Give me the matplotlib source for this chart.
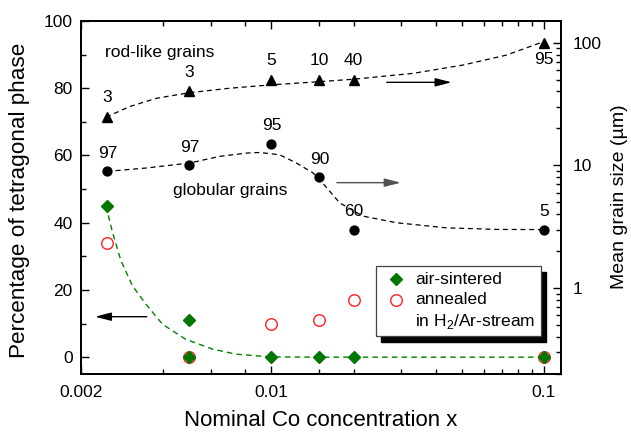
import matplotlib
matplotlib.use("Agg")
import matplotlib.pyplot as plt
from matplotlib.ticker import FixedLocator, NullFormatter, FuncFormatter
from matplotlib.patches import Rectangle

plt.rcParams['font.family'] = ['Liberation Sans', 'DejaVu Sans']
plt.rcParams['mathtext.fontset'] = 'custom'
plt.rcParams['mathtext.rm'] = 'Liberation Sans'

# ---- data ----
x_grain = [0.0025, 0.005, 0.01, 0.015, 0.02, 0.1]
size_rod = [25, 40, 50, 50, 50, 100]
rod_pct = ['3', '3', '5', '10', '40', '95']
size_glob = [9, 10, 15, 8, 3, 3]
glob_pct = ['97', '97', '95', '90', '60', '5']

x_air = [0.0025, 0.005, 0.005, 0.01, 0.015, 0.02, 0.1]
tet_air = [45, 11, 0, 0, 0, 0, 0]
x_ann = [0.0025, 0.005, 0.01, 0.015, 0.02, 0.1]
tet_ann = [34, 0, 10, 11, 17, 0]

green_fit_x = [0.00247, 0.00261, 0.0028, 0.00309, 0.00346, 0.00398, 0.00485,
               0.00608, 0.00741, 0.00984, 0.015, 0.02, 0.05, 0.1]
green_fit_y = [45, 37.1, 28.8, 21.2, 15.8, 9.8, 5.3, 2.4, 0.9, 0.1, 0, 0, 0, 0]

rod_fit_x = [0.00247, 0.00301, 0.00378, 0.0050, 0.00702, 0.00985, 0.01503,
             0.01993, 0.0331, 0.0505, 0.0729, 0.0993]
rod_fit_y = [24.7, 30.1, 35.2, 39.1, 42.5, 45.2, 48.1, 50.3, 56.2, 65.7, 79.2, 101.5]

glob_fit_x = [0.00249, 0.00347, 0.0050, 0.00645, 0.0081, 0.00905, 0.01072, 0.01235,
              0.01421, 0.01503, 0.0178, 0.02168, 0.02877, 0.0439, 0.067, 0.1]
glob_fit_y = [8.94, 9.52, 10.45, 11.84, 12.6, 12.74, 12.2, 10.45, 8.68, 7.66, 4.95,
              3.86, 3.41, 3.10, 3.01, 3.0]

x_major = [0.002, 0.01, 0.1]
x_minor = [0.004, 0.006, 0.008, 0.015, 0.02, 0.03, 0.04, 0.05, 0.06, 0.07, 0.08, 0.09]

# ---- figure ----
W, H = 631, 433
fig = plt.figure(figsize=(W / 100, H / 100), dpi=100)
ax = fig.add_axes([0.1284, 0.1363, 0.7607, 0.8152])
ax2 = ax.twinx()

ax.set_xscale('log')
ax.set_xlim(0.002, 0.1155)
ax.set_ylim(-5, 100)
ax2.set_yscale('log')
ax2.set_ylim(0.2, 150)

# left axis data
ax.plot(green_fit_x, green_fit_y, color='#008000', lw=1.0, dashes=(4, 3), zorder=2)
ax.plot(x_ann, tet_ann, linestyle='none', marker='o', ms=8.3, mfc='none',
        mec='#ff2020', mew=1.0, zorder=3)
ax.plot(x_air, tet_air, linestyle='none', marker='D', ms=5.8, mfc='#007800',
        mec='#007800', zorder=4)

# right axis data
ax2.plot(rod_fit_x, rod_fit_y, color='k', lw=0.9, dashes=(4, 3))
ax2.plot(glob_fit_x, glob_fit_y, color='k', lw=0.9, dashes=(4, 3))
ax2.plot(x_grain, size_rod, linestyle='none', marker='^', ms=7.6, color='k')
ax2.plot(x_grain, size_glob, linestyle='none', marker='o', ms=6.4, color='k')

for i, (xv, yv, lab) in enumerate(zip(x_grain, size_rod, rod_pct)):
    dy = -17 if i == len(x_grain) - 1 else 19
    ax2.annotate(lab, (xv, yv), xytext=(0, dy), textcoords='offset pixels',
                 ha='center', va='center', fontsize=12.5)
for xv, yv, lab in zip(x_grain, size_glob, glob_pct):
    ax2.annotate(lab, (xv, yv), xytext=(0, 18), textcoords='offset pixels',
                 ha='center', va='center', fontsize=12.5)

# texts
ax.text(0.05, 0.910, 'rod-like grains', transform=ax.transAxes, fontsize=12.5,
        va='center', ha='left')
ax.text(0.192, 0.521, 'globular grains', transform=ax.transAxes, fontsize=12.5,
        va='center', ha='left')

# arrows
ap = dict(arrowstyle='-|>,head_length=0.7,head_width=0.18', lw=1.0,
          mutation_scale=14, shrinkA=0, shrinkB=0)
ax.annotate('', xy=(0.772, 0.8263), xytext=(0.637, 0.8263), xycoords='axes fraction',
            arrowprops=dict(color='k', **ap))
ax.annotate('', xy=(0.666, 0.542), xytext=(0.533, 0.542), xycoords='axes fraction',
            arrowprops=dict(color='#505050', **ap))
ax.annotate('', xy=(0.029, 0.1623), xytext=(0.137, 0.1623), xycoords='axes fraction',
            arrowprops=dict(color='k', **ap))

# legend (drawn manually with solid shadow)
lx0, lx1, ly0, ly1 = 0.615, 0.958, 0.108, 0.305
ax.add_patch(Rectangle((lx0 + 0.0105, ly0 - 0.017), lx1 - lx0, ly1 - ly0,
                       transform=ax.transAxes, facecolor='k', edgecolor='k',
                       zorder=6, clip_on=False))
ax.add_patch(Rectangle((lx0, ly0), lx1 - lx0, ly1 - ly0, transform=ax.transAxes,
                       facecolor='white', edgecolor='#444444', lw=0.9, zorder=7,
                       clip_on=False))
ax.plot([0.656], [0.269], transform=ax.transAxes, marker='D', ms=5.8,
        color='#007800', zorder=8, clip_on=False)
ax.plot([0.656], [0.210], transform=ax.transAxes, marker='o', ms=8.3, mfc='none',
        mec='#ff2020', mew=1.0, zorder=8, clip_on=False)
ax.text(0.696, 0.269, 'air-sintered', transform=ax.transAxes, fontsize=12.5,
        va='center', ha='left', zorder=9)
ax.text(0.696, 0.210, 'annealed', transform=ax.transAxes, fontsize=12.5,
        va='center', ha='left', zorder=9)
ax.text(0.696, 0.148, r'in H$_2$/Ar-stream', transform=ax.transAxes, fontsize=12.5,
        va='center', ha='left', zorder=9)

# ticks
ax.xaxis.set_major_locator(FixedLocator(x_major))
ax.xaxis.set_minor_locator(FixedLocator(x_minor))
ax.xaxis.set_major_formatter(FuncFormatter(lambda v, p: '%g' % v))
ax.xaxis.set_minor_formatter(NullFormatter())
ax.yaxis.set_major_locator(FixedLocator([0, 20, 40, 60, 80, 100]))
ax.yaxis.set_minor_locator(FixedLocator([10, 30, 50, 70, 90]))
ax2.yaxis.set_major_locator(FixedLocator([1, 10, 100]))
ax2.yaxis.set_minor_locator(FixedLocator(
    [0.2, 0.3, 0.4, 0.5, 0.6, 0.7, 0.8, 0.9,
     2, 3, 4, 5, 6, 7, 8, 9, 20, 30, 40, 50, 60, 70, 80, 90]))
ax2.yaxis.set_major_formatter(FuncFormatter(lambda v, p: '%g' % v))
ax2.yaxis.set_minor_formatter(NullFormatter())

ax.tick_params(axis='x', which='both', direction='in', top=True, labelsize=12.5, pad=8)
ax.tick_params(axis='y', which='both', direction='in', right=False, labelsize=12.5, pad=6)
ax2.tick_params(axis='y', which='both', direction='in', labelsize=12.5, pad=8)
for a in (ax, ax2):
    a.tick_params(which='major', length=5.5, width=1.0)
    a.tick_params(which='minor', length=3.5, width=1.0)
    for s in a.spines.values():
        s.set_linewidth(1.4)

# axis titles placed in figure pixels
fig.text(321 / W, 2 / H, 'Nominal Co concentration x', fontsize=16,
         ha='center', va='bottom')
fig.text(20 / W, 1 - 200 / H, 'Percentage of tetragonal phase', fontsize=16.2,
         ha='center', va='center', rotation=90)
fig.text(619 / W, 1 - 197 / H, 'Mean grain size (\u00b5m)', fontsize=14,
         ha='center', va='center', rotation=90)

fig.savefig('out.png', dpi=100)
